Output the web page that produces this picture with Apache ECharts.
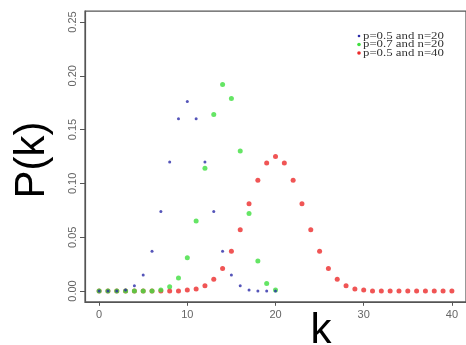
<!DOCTYPE html>
<html>
<head>
<meta charset="utf-8">
<script src="https://cdn.jsdelivr.net/npm/echarts@6/dist/echarts.min.js"></script>
<style>
  html, body { margin: 0; padding: 0; background: #fff; }
  #chart { width: 466px; height: 345px; }
</style>
</head>
<body>
<div id="chart"></div>
<script>
// Binomial probabilities P(k) for three parameter sets
const seriesNames = ['p=0.5 and n=20', 'p=0.7 and n=20', 'p=0.5 and n=40'];
const seriesColors = ['#2b2ba8', '#3fdf3f', '#ec2a2a'];

const kValues20 = [0,1,2,3,4,5,6,7,8,9,10,11,12,13,14,15,16,17,18,19,20];
const kValues40 = [0,1,2,3,4,5,6,7,8,9,10,11,12,13,14,15,16,17,18,19,20,
                   21,22,23,24,25,26,27,28,29,30,31,32,33,34,35,36,37,38,39,40];

const probHalf20 = [0,0,0,0.001,0.005,0.015,0.037,0.074,0.120,0.160,0.176,
                    0.160,0.120,0.074,0.037,0.015,0.005,0.001,0,0,0];
const probSeven20 = [0,0,0,0,0,0,0,0.001,0.004,0.012,0.031,
                     0.065,0.114,0.164,0.192,0.179,0.130,0.072,0.028,0.007,0.001];
const probHalf40 = [0,0,0,0,0,0,0,0,0,0,0.001,0.002,0.005,0.011,0.021,0.037,0.057,0.081,0.103,0.119,0.125,
                    0.119,0.103,0.081,0.057,0.037,0.021,0.011,0.005,0.002,0.001,0,0,0,0,0,0,0,0,0,0];

const xTicks = [0, 10, 20, 30, 40];
const yTicks = [0, 0.05, 0.10, 0.15, 0.20, 0.25];

const pairs = (xs, ys) => xs.map((x, i) => [x, ys[i]]);

const axisGray = '#555';
const labelGray = '#666';

const chart = echarts.init(document.getElementById('chart'), null, { renderer: 'canvas' });

// legend drawn as small dots with stretched serif text
const legendItems = [];
seriesNames.forEach((name, i) => {
  const cy = 36 + i * 8.5;
  legendItems.push({
    type: 'circle',
    shape: { cx: 359, cy: cy, r: i === 0 ? 1.3 : 1.8 },
    style: { fill: seriesColors[i] }
  });
  legendItems.push({
    type: 'text',
    x: 363, y: cy,
    scaleX: 1.28,
    style: {
      text: name,
      font: '10px "Liberation Serif", serif',
      fill: '#333',
      verticalAlign: 'middle',
      align: 'left'
    }
  });
});

chart.setOption({
  animation: false,
  backgroundColor: '#fff',
  grid: {
    left: 85, top: 11.2, right: -8.4, bottom: 43.2,
    show: true, borderColor: axisGray, borderWidth: 1.2,
    containLabel: false
  },
  xAxis: {
    type: 'value',
    min: -1.6, max: 41.6,
    splitLine: { show: false },
    axisLine: { show: true, onZero: false, lineStyle: { color: axisGray, width: 1.2 } },
    axisTick: { show: true, customValues: xTicks, length: 4, lineStyle: { color: axisGray } },
    axisLabel: {
      customValues: xTicks, margin: 8, color: labelGray,
      fontSize: 11, fontFamily: '"Liberation Sans", sans-serif'
    }
  },
  yAxis: {
    type: 'value',
    min: -0.01, max: 0.26,
    splitLine: { show: false },
    axisLine: { show: true, onZero: false, lineStyle: { color: axisGray, width: 1.2 } },
    axisTick: { show: true, customValues: yTicks, length: 5, lineStyle: { color: axisGray } },
    axisLabel: {
      customValues: yTicks, margin: 7, rotate: 90, color: labelGray,
      fontSize: 11, fontFamily: '"Liberation Sans", sans-serif',
      formatter: v => v.toFixed(2)
    }
  },
  graphic: [
    {
      type: 'text', x: 32, y: 160, rotation: Math.PI / 2,
      style: {
        text: 'P(k)', font: '42px "Liberation Sans", Arial, sans-serif',
        fill: '#000', align: 'center', verticalAlign: 'middle'
      }
    },
    {
      type: 'text', x: 321, y: 331,
      style: {
        text: 'k', font: '42px "Liberation Sans", Arial, sans-serif',
        fill: '#000', align: 'center', verticalAlign: 'middle'
      }
    },
    ...legendItems
  ],
  series: [
    {
      name: seriesNames[2], type: 'scatter', symbol: 'circle', symbolSize: 5,
      itemStyle: { color: seriesColors[2] },
      data: pairs(kValues40, probHalf40)
    },
    {
      name: seriesNames[1], type: 'scatter', symbol: 'circle', symbolSize: 5,
      itemStyle: { color: seriesColors[1] },
      data: pairs(kValues20, probSeven20)
    },
    {
      name: seriesNames[0], type: 'scatter', symbol: 'circle', symbolSize: 3,
      itemStyle: { color: seriesColors[0] },
      data: pairs(kValues20, probHalf20)
    }
  ]
});
</script>
</body>
</html>
